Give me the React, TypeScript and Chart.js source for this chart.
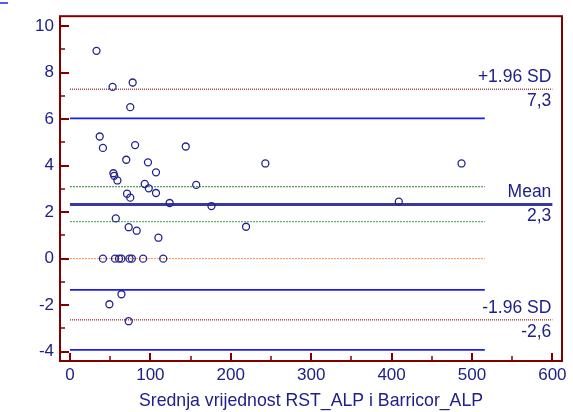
import React, { useEffect, useRef } from "react";
import { Chart, registerables } from "chart.js";

Chart.register(...registerables);

// Bland-Altman data: mean of the two methods (x) vs difference (y)
const meanValues = [
  33, 53, 78, 75, 37, 41, 81, 144, 70, 97, 54, 55, 59, 107, 93, 98, 107, 157, 71, 75, 124,
  243, 487, 176, 409, 219, 57, 73, 83, 110,
  41, 56, 61, 64, 74, 77, 91, 116,
  64, 49, 73,
];
const differences = [
  8.93, 7.38, 7.57, 6.51, 5.25, 4.76, 4.88, 4.82, 4.25, 4.14, 3.67, 3.56, 3.36, 3.71, 3.21, 3.02, 2.82, 3.17, 2.79, 2.62, 2.39,
  4.09, 4.09, 2.26, 2.45, 1.37, 1.73, 1.35, 1.2, 0.9,
  0, 0, 0, 0, 0, 0, 0, 0,
  -1.53, -1.96, -2.69,
];

// Limits of agreement and mean
const limitNames = ["+1.96 SD", "Mean", "-1.96 SD"];
const limitValues = [7.28, 2.33, -2.63];
const limitXRange = [0, 600];

// Confidence intervals and reference
const ciUpperLimit = [6.03];
const ciLowerLimit = [-1.34, -3.92];
const ciMean = [3.09, 1.59];
const zeroLine = [0];
const ciXRange = [0, 516];

const xTicksStep = 100;
const yTicksStep = 2;
const xTitle = "Srednja vrijednost RST_ALP i Barricor_ALP";

const NAVY = "#20208a";
const MAROON = "#800000";
const FONT = "'Liberation Sans', Arial, sans-serif";

function hLine(y: number, range: number[], color: string, width: number, dash: number[]) {
  return {
    data: [
      { x: range[0], y },
      { x: range[1], y },
    ],
    showLine: true,
    pointRadius: 0,
    borderColor: color,
    borderWidth: width,
    borderDash: dash,
    fill: false,
  };
}

const fmt = (v: number) => v.toFixed(1).replace(".", ",");

const decorPlugin = {
  id: "decor",
  afterDraw(chart: any) {
    const { ctx, chartArea } = chart;
    const xs = chart.scales.x;
    const ys = chart.scales.y;
    ctx.save();
    // stray blue mark at top-left
    ctx.strokeStyle = "#2020ff";
    ctx.lineWidth = 1.5;
    ctx.beginPath();
    ctx.moveTo(0, 3);
    ctx.lineTo(8, 3);
    ctx.stroke();

    // inward ticks
    ctx.strokeStyle = MAROON;
    const yMajors = ys.ticks.map((t: any) => t.value);
    ctx.lineWidth = 2;
    yMajors.forEach((v: number) => {
      const p = Math.round(ys.getPixelForValue(v));
      ctx.beginPath();
      ctx.moveTo(chartArea.left, p);
      ctx.lineTo(chartArea.left + 9, p);
      ctx.stroke();
    });
    ctx.lineWidth = 1.5;
    for (let i = 0; i < yMajors.length; i++) {
      const v = yMajors[i] + yTicksStep / 2;
      if (v > ys.max) continue;
      const p = Math.round(ys.getPixelForValue(v));
      ctx.beginPath();
      ctx.moveTo(chartArea.left, p);
      ctx.lineTo(chartArea.left + 5, p);
      ctx.stroke();
    }
    const xMajors = xs.ticks.map((t: any) => t.value);
    ctx.lineWidth = 2;
    xMajors.forEach((v: number) => {
      const p = Math.round(xs.getPixelForValue(v));
      ctx.beginPath();
      ctx.moveTo(p, chartArea.bottom);
      ctx.lineTo(p, chartArea.bottom - 8);
      ctx.stroke();
    });
    ctx.lineWidth = 1.5;
    for (let i = 0; i < xMajors.length; i++) {
      const v = xMajors[i] + xTicksStep / 2;
      if (v > xs.max) continue;
      const p = Math.round(xs.getPixelForValue(v));
      ctx.beginPath();
      ctx.moveTo(p, chartArea.bottom);
      ctx.lineTo(p, chartArea.bottom - 5);
      ctx.stroke();
    }

    // frame
    ctx.lineWidth = 2;
    ctx.strokeRect(chartArea.left, chartArea.top, chartArea.right - chartArea.left, chartArea.bottom - chartArea.top);

    // limit labels
    ctx.fillStyle = NAVY;
    ctx.font = `17.5px ${FONT}`;
    ctx.textAlign = "right";
    ctx.textBaseline = "alphabetic";
    const rx = xs.getPixelForValue(limitXRange[1]) - 1;
    limitValues.forEach((v, i) => {
      const py = ys.getPixelForValue(v);
      ctx.fillText(limitNames[i], rx, py - 7);
      ctx.fillText(fmt(v), rx, py + 17);
    });
    ctx.restore();
  },
};

export default function App() {
  const ref = useRef<HTMLCanvasElement | null>(null);
  useEffect(() => {
    if (!ref.current) return;
    const points = meanValues.map((x, i) => ({ x, y: differences[i] }));
    const datasets: any[] = [
      {
        data: points,
        pointRadius: 3.5,
        pointBorderWidth: 1.3,
        pointBorderColor: "#23238f",
        pointBackgroundColor: "rgba(0,0,0,0)",
        showLine: false,
      },
      hLine(limitValues[1], limitXRange, "#3838a0", 3, []),
      hLine(limitValues[0], limitXRange, "#a04848", 1.5, [1, 1]),
      hLine(limitValues[2], limitXRange, "#a04848", 1.5, [1, 1]),
      hLine(ciUpperLimit[0], ciXRange, "#1c1cf0", 1.8, []),
      hLine(ciLowerLimit[0], ciXRange, "#1c1cf0", 1.8, []),
      hLine(ciLowerLimit[1], ciXRange, "#1c1cf0", 1.8, []),
      hLine(ciMean[0], ciXRange, "#2e7d2e", 1, [2, 1]),
      hLine(ciMean[1], ciXRange, "#62b062", 1.2, [2, 1]),
      hLine(zeroLine[0], ciXRange, "#ff8c48", 1, [2, 1]),
    ];
    const chart = new Chart(ref.current, {
      type: "scatter",
      data: { datasets },
      options: {
        responsive: false,
        animation: false,
        events: [],
        layout: { padding: { top: 16, right: 11, left: 0, bottom: 0 } },
        plugins: { legend: { display: false }, tooltip: { enabled: false } },
        scales: {
          x: {
            type: "linear",
            min: -12.4,
            max: 612,
            grid: { display: false, drawTicks: false },
            border: { display: false },
            ticks: {
              stepSize: xTicksStep,
              includeBounds: false,
              color: NAVY,
              font: { family: FONT, size: 17 },
              padding: 4,
              maxRotation: 0,
              autoSkip: false,
            },
            title: {
              display: true,
              text: xTitle,
              color: NAVY,
              font: { family: FONT, size: 17.7 },
              padding: { top: 0, bottom: 0 },
            },
            afterFit: (s: any) => {
              s.height = 51;
            },
          },
          y: {
            type: "linear",
            min: -4.4,
            max: 10.42,
            grid: { display: false, drawTicks: false },
            border: { display: false },
            ticks: {
              stepSize: yTicksStep,
              includeBounds: false,
              color: NAVY,
              font: { family: FONT, size: 17 },
              padding: 6,
            },
            afterFit: (s: any) => {
              s.width = 60;
            },
          },
        },
      },
      plugins: [decorPlugin],
    } as any);
    return () => chart.destroy();
  }, []);
  return (
    <div style={{ position: "absolute", left: 0, top: 0, width: 573, height: 412, background: "#fff" }}>
      <canvas ref={ref} width={573} height={412} />
    </div>
  );
}
